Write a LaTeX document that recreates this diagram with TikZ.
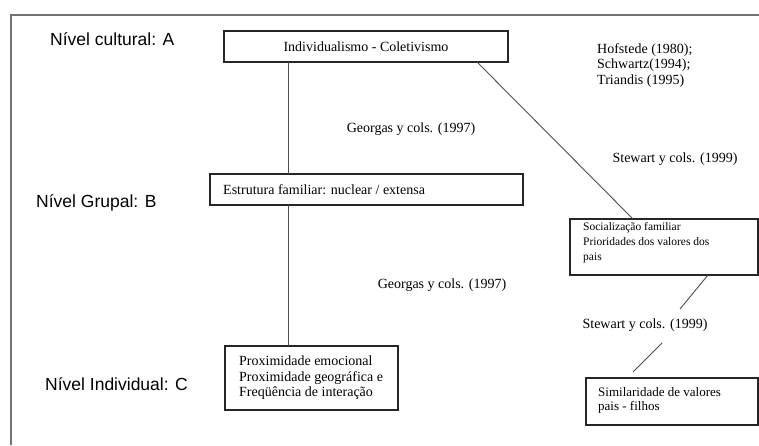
\documentclass[tikz,border=0pt]{standalone}
\usepackage{fontspec}
\setmainfont{Liberation Serif}
\newfontfamily\lsans{Liberation Sans}
\begin{document}
\begin{tikzpicture}[x=1pt,y=-1pt,
  box/.style={draw=black!85, line width=1.2pt, inner sep=0pt, outer sep=0pt},
  link/.style={draw=black!70, line width=0.9pt},
  lvl/.style={font=\lsans\fontsize{17.5}{20}\selectfont, inner sep=0pt, anchor=west},
  txt/.style={font=\fontsize{14}{15.5}\selectfont, inner sep=0pt, align=left},
  ]
\useasboundingbox (0,0) rectangle (759,445);
\draw[black!55, line width=1.3pt] (11,445) -- (11,15) -- (759,15);

% level labels
\node[lvl] (lA) at (50,39) {Nível cultural: A};
\node[lvl] (lB) at (36,203) {Nível Grupal: B};
\node[lvl] (lC) at (45,384) {Nível Individual: C};

% boxes
\node[box, minimum width=284pt, minimum height=31pt, anchor=north west] (a) at (224,31) {};
\node[txt] (at) at (366,46.5) {Individualismo - Coletivismo};

\node[box, minimum width=313pt, minimum height=31pt, anchor=north west] (b) at (210,174) {};
\node[txt, anchor=west] (bt) at (223,190) {Estrutura familiar: nuclear / extensa};

\node[box, minimum width=173pt, minimum height=64pt, anchor=north west] (c) at (225,346) {};
\node[txt, anchor=west] (ct) at (239,378) {Proximidade emocional\\Proximidade geográfica e\\Freqüência de interação};

\node[box, minimum width=188pt, minimum height=56pt, anchor=north west] (d) at (570,219) {};
\node[txt, anchor=west, font=\fontsize{11.5}{15}\selectfont] (dt) at (583,243) {Socialização familiar\\Prioridades dos valores dos\\pais};

\node[box, minimum width=172pt, minimum height=47pt, anchor=north west] (e) at (586,378) {};
\node[txt, anchor=west, font=\fontsize{13}{14}\selectfont] (et) at (598,400) {Similaridade de valores\\pais - filhos};

% references
\node[txt, anchor=west] (hof) at (597,65.5) {Hofstede (1980);\\Schwartz(1994);\\Triandis (1995)};
\node[txt] (g1) at (411,129) {Georgas y cols. (1997)};
\node[txt] (g2) at (442,285) {Georgas y cols. (1997)};
\node[txt] (s1) at (675,159) {Stewart y cols. (1999)};
\node[txt] (s2) at (645,325) {Stewart y cols. (1999)};

% connectors
\coordinate (v) at (288,0);
\coordinate (x1) at (477,0);
\coordinate (x2) at (633,0);
\coordinate (x3) at (708,0);
\coordinate (e1) at (680,309);
\coordinate (e2) at (662,343);
\coordinate (e3) at (633,372);
\draw[link] (a.south -| v) -- (b.north -| v);
\draw[link] (b.south -| v) -- (c.north -| v);
\draw[link] (a.south -| x1) -- (d.north -| x2);
\draw[link] (d.south -| x3) -- (e1);
\draw[link] (e2) -- (e3);
\end{tikzpicture}
\end{document}
